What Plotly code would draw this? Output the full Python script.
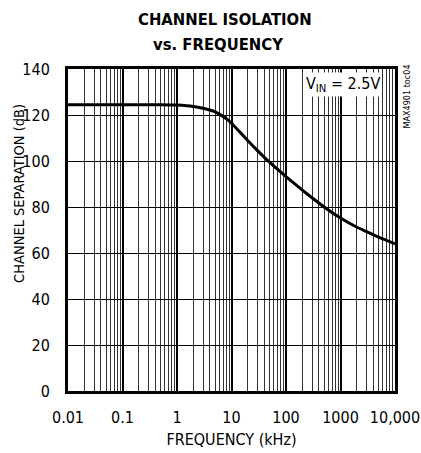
import plotly.graph_objects as go

# Data
freq_khz = [0.01, 0.1, 0.5, 1, 2, 3, 5, 7, 8, 10, 15, 20, 30, 40, 60, 100,
            200, 300, 500, 1000, 2000, 3000, 5000, 10000]
sep_db = [124.5, 124.5, 124.5, 124.3, 123.7, 122.9, 121.4, 119.4, 118.4, 116.4, 112.0, 108.8,
          104.5, 101.6, 97.8, 93.2, 87.3, 84.0, 80.0, 75.2, 71.2, 69.3, 66.9, 64.0]

x_major = [0.01, 0.1, 1, 10, 100, 1000, 10000]
x_labels = ["0.01", "0.1", "1", "10", "100", "1000", "10,000"]
x_minor = [d * m for d in x_major[:-1] for m in range(2, 10)]
y_ticks = [0, 20, 40, 60, 80, 100, 120, 140]

FONT = "DejaVu Sans Condensed, Liberation Sans, sans-serif"

fig = go.Figure()
fig.add_trace(go.Scatter(x=freq_khz, y=sep_db, mode="lines",
                         line=dict(color="black", width=3, shape="spline", smoothing=0.4),
                         showlegend=False, hoverinfo="skip"))

fig.update_layout(
    width=421, height=453,
    margin=dict(l=68, r=26, t=69, b=62),
    paper_bgcolor="white", plot_bgcolor="white",
    font=dict(family=FONT, size=16, color="black"),
)

fig.add_annotation(text="<b>CHANNEL ISOLATION</b>",
                   xref="paper", yref="paper", x=0.48, y=1.0, yshift=50,
                   xanchor="center", yanchor="middle", showarrow=False,
                   font=dict(family=FONT, size=16.5, color="black"))
fig.add_annotation(text="<b>vs. FREQUENCY</b>",
                   xref="paper", yref="paper", x=0.46, y=1.0, yshift=25,
                   xanchor="center", yanchor="middle", showarrow=False,
                   font=dict(family=FONT, size=16.5, color="black"))

fig.update_xaxes(
    type="log", range=[-2, 4], automargin=False,
    tickmode="array", tickvals=x_major, ticktext=x_labels,
    showgrid=True, gridcolor="black", gridwidth=1.6,
    showline=True, linecolor="black", linewidth=3, mirror=True,
    ticks="", ticklabelstandoff=10,
    minor=dict(tickmode="array", tickvals=x_minor, showgrid=True,
               gridcolor="#333333", gridwidth=1, ticks=""),
    title=dict(text="FREQUENCY (kHz)", font=dict(family=FONT, size=16), standoff=8),
    tickfont=dict(family=FONT, size=16),
    zeroline=False,
)
fig.update_yaxes(
    range=[0, 140], automargin=False,
    tickmode="array", tickvals=y_ticks,
    showgrid=True, gridcolor="black", gridwidth=1,
    showline=True, linecolor="black", linewidth=3, mirror=True,
    ticks="", zeroline=False, ticklabelstandoff=12,
    tickfont=dict(family=FONT, size=16),
)

fig.add_annotation(text="CHANNEL SEPARATION (dB)", xref="paper", yref="paper",
                   x=0.0, xshift=-49, y=0.612, xanchor="center", yanchor="middle",
                   textangle=-90, showarrow=False,
                   font=dict(family=FONT, size=14.5, color="black"))
fig.add_annotation(text="V<sub>IN</sub> = 2.5V", xref="paper", yref="paper",
                   x=0.96, y=0.99, xanchor="right", yanchor="top",
                   showarrow=False, bgcolor="white", borderpad=1,
                   font=dict(family=FONT, size=16, color="black"))
fig.add_annotation(text="MAX4901 toc04", xref="paper", yref="paper",
                   x=1.0, xshift=5, y=1.02, xanchor="left", yanchor="top",
                   textangle=-90, showarrow=False,
                   font=dict(family=FONT, size=9, color="black"))

fig.write_html("out.html", config={"displayModeBar": False},
               post_script="document.body.style.margin='0px';document.body.style.padding='0px';")
